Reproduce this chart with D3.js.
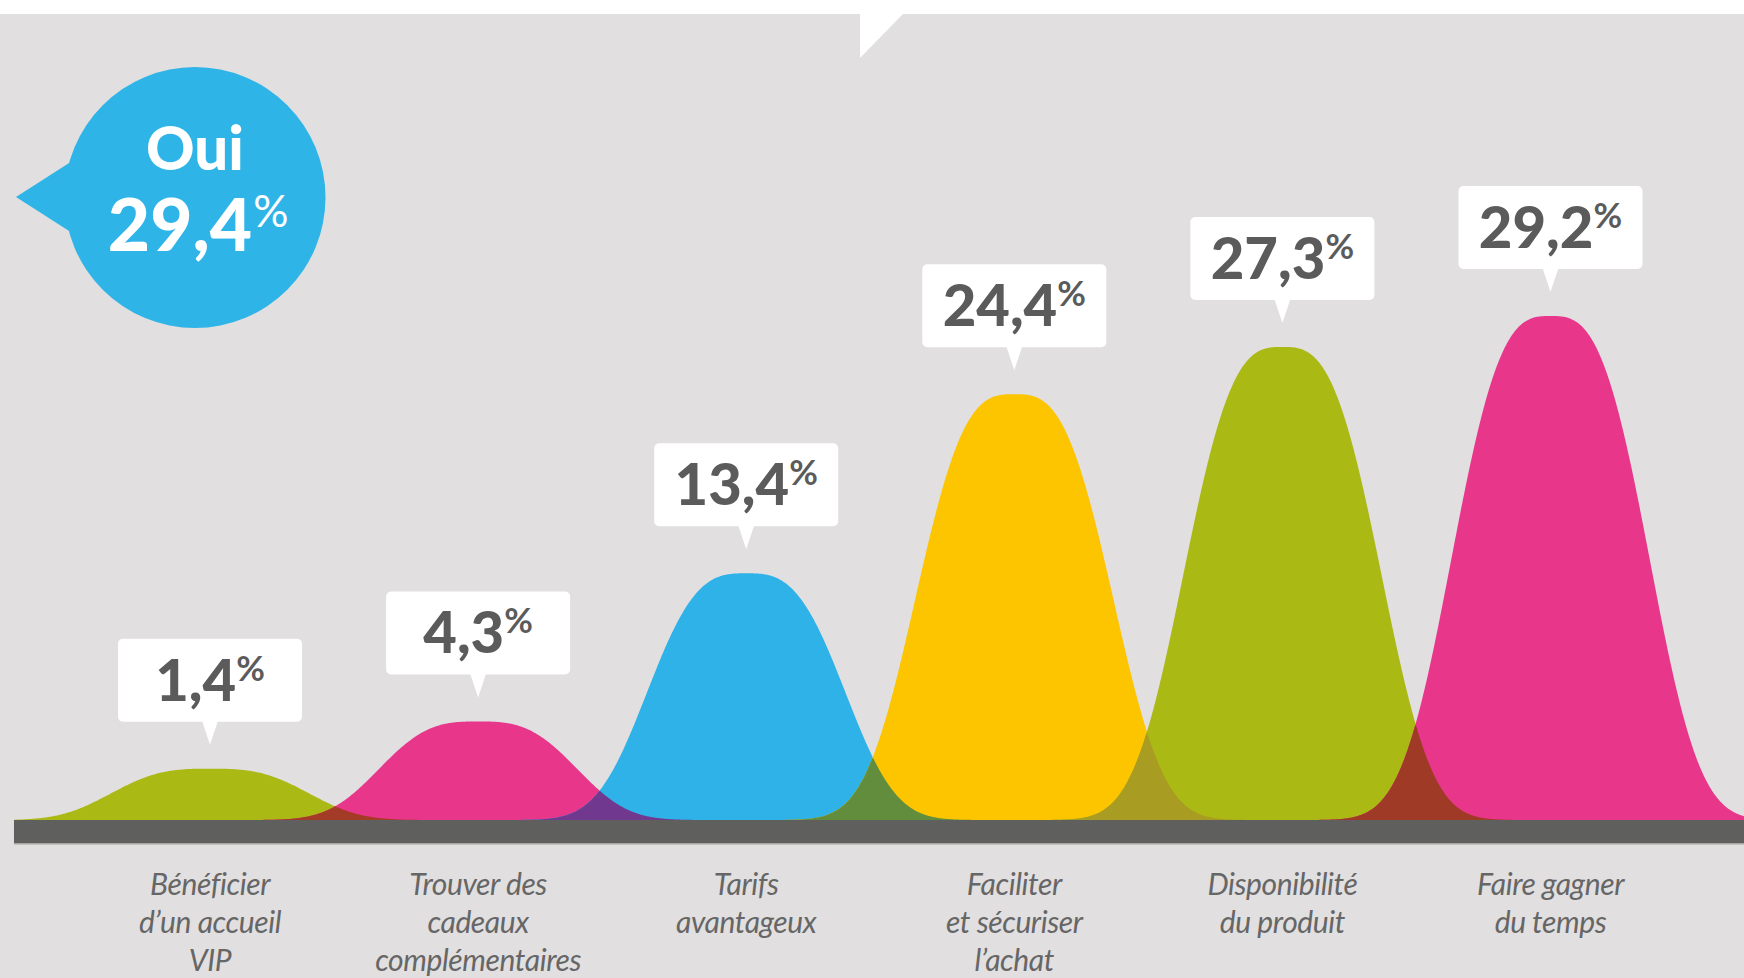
<!DOCTYPE html>
<html lang="fr">
<head>
<meta charset="utf-8">
<script src="https://cdn.jsdelivr.net/npm/d3@7"></script>
<style>
  html, body { margin: 0; padding: 0; background: #e1dfe0; overflow: hidden; }
  svg { display: block; }
  text { font-family: Lato, "Open Sans", sans-serif; }
</style>
</head>
<body>
<svg id="chart" width="1744" height="978"></svg>
<script>
// ---------- DATA ----------
const categories = [
  "Bénéficier d’un accueil VIP",
  "Trouver des cadeaux complémentaires",
  "Tarifs avantageux",
  "Faciliter et sécuriser l’achat",
  "Disponibilité du produit",
  "Faire gagner du temps"
];
const labelLines = [
  ["Bénéficier", "d’un accueil", "VIP"],
  ["Trouver des", "cadeaux", "complémentaires"],
  ["Tarifs", "avantageux"],
  ["Faciliter", "et sécuriser", "l’achat"],
  ["Disponibilité", "du produit"],
  ["Faire gagner", "du temps"]
];
const values = [1.4, 4.3, 13.4, 24.4, 27.3, 29.2];
const colors = ["#abb914", "#e8378a", "#2eb2e7", "#fdc500", "#abb914", "#e8378a"];
const overlapColors = ["#a33b26", "#70388f", "#628d3c", "#a99c22", "#9e3a26"];
const headline = "Oui";
const headlineValue = 29.4;

// ---------- SETUP ----------
const W = 1744, H = 978;
const svg = d3.select("#chart");
const baseY = 820;
const fr = d3.formatLocale({decimal: ",", thousands: " ", grouping: [3], currency: ["", " €"]});
const fmt = fr.format(".1f");

const x = d3.scalePoint().domain(categories).range([210, 1550.5]);
const hScale = d3.scaleLinear().domain([0, 30]).range([28.5, 517]);

const spread = 114, power = 3;
function bell(cx, h, px) {
  return h * Math.exp(-Math.pow(Math.abs(px - cx) / spread, power));
}
const xs = d3.range(14, W + 1, 1);

// background
svg.append("rect").attr("x", 0).attr("y", 0).attr("width", W).attr("height", H).attr("fill", "#e1dfe0");
// top white strip and notch
svg.append("rect").attr("x", 0).attr("y", 0).attr("width", W).attr("height", 14).attr("fill", "#ffffff");
svg.append("path").attr("d", "M860,13 L904,13 L860,58 Z").attr("fill", "#ffffff");

// ---------- BELL CURVES ----------
const area = d3.area()
  .x(d => d.x)
  .y0(baseY)
  .y1(d => baseY - d.h)
  .curve(d3.curveLinear);

const curves = svg.append("g");
categories.forEach((c, i) => {
  const cx = x(c), h = hScale(values[i]);
  const pts = xs.map(px => ({x: px, h: bell(cx, h, px)}));
  curves.append("path").attr("d", area(pts)).attr("fill", colors[i]);
});
// overlaps between neighbours
for (let i = 0; i < categories.length - 1; i++) {
  const c1 = x(categories[i]), h1 = hScale(values[i]);
  const c2 = x(categories[i + 1]), h2 = hScale(values[i + 1]);
  const pts = xs.map(px => ({x: px, h: Math.min(bell(c1, h1, px), bell(c2, h2, px))}));
  curves.append("path").attr("d", area(pts)).attr("fill", overlapColors[i]);
}

// base bar
svg.append("rect").attr("x", 14).attr("y", baseY).attr("width", W - 14).attr("height", 24).attr("fill", "#5f5f5e");
svg.append("rect").attr("x", 14).attr("y", baseY + 23).attr("width", W - 14).attr("height", 1.5).attr("fill", "#a5a5a5");

// ---------- VALUE BUBBLES ----------
const boxW = 184, boxH = 83;
const bubbles = svg.append("g");
categories.forEach((c, i) => {
  const cx = x(c);
  const peakY = baseY - hScale(values[i]);
  const bottom = peakY - 47;
  const g = bubbles.append("g");
  g.append("rect")
    .attr("x", cx - boxW / 2).attr("y", bottom - boxH)
    .attr("width", boxW).attr("height", boxH)
    .attr("rx", 5).attr("fill", "#ffffff");
  g.append("path")
    .attr("d", `M${cx - 8},${bottom - 1} L${cx + 8},${bottom - 1} L${cx},${peakY - 24} Z`)
    .attr("fill", "#ffffff");
  const t = g.append("text")
    .attr("x", cx).attr("y", bottom - 21)
    .attr("text-anchor", "middle")
    .attr("fill", "#5b5b5b");
  t.append("tspan").attr("font-size", 58).attr("font-weight", 900).text(fmt(values[i]));
  t.append("tspan").attr("font-size", 35).attr("font-weight", 700).attr("dy", -20).text("%");
});

// ---------- CATEGORY LABELS ----------
const labels = svg.append("g");
categories.forEach((c, i) => {
  const t = labels.append("text")
    .attr("text-anchor", "middle")
    .attr("fill", "#666666")
    .attr("font-size", 30)
    .attr("font-style", "italic")
    .attr("font-weight", 400)
    .attr("letter-spacing", -0.4);
  labelLines[i].forEach((line, j) => {
    t.append("tspan").attr("x", x(c)).attr("y", 895 + j * 38).text(line);
  });
});

// ---------- "OUI" CIRCLE ----------
const circ = svg.append("g");
circ.append("path").attr("d", "M16,197 L80,156 L80,238 Z").attr("fill", "#2fb4e8");
circ.append("circle").attr("cx", 195).attr("cy", 197.5).attr("r", 130.5).attr("fill", "#2fb4e8");
const ct = circ.append("text")
  .attr("text-anchor", "middle").attr("fill", "#ffffff");
ct.append("tspan")
  .attr("x", 195).attr("y", 170)
  .attr("font-size", 60).attr("font-weight", 900)
  .text(headline);
ct.append("tspan")
  .attr("x", 180).attr("y", 251)
  .attr("font-size", 73).attr("font-weight", 900)
  .text(fmt(headlineValue));
ct.append("tspan")
  .attr("x", 271).attr("y", 227)
  .attr("font-size", 44).attr("font-weight", 400)
  .text("%");
</script>
</body>
</html>
